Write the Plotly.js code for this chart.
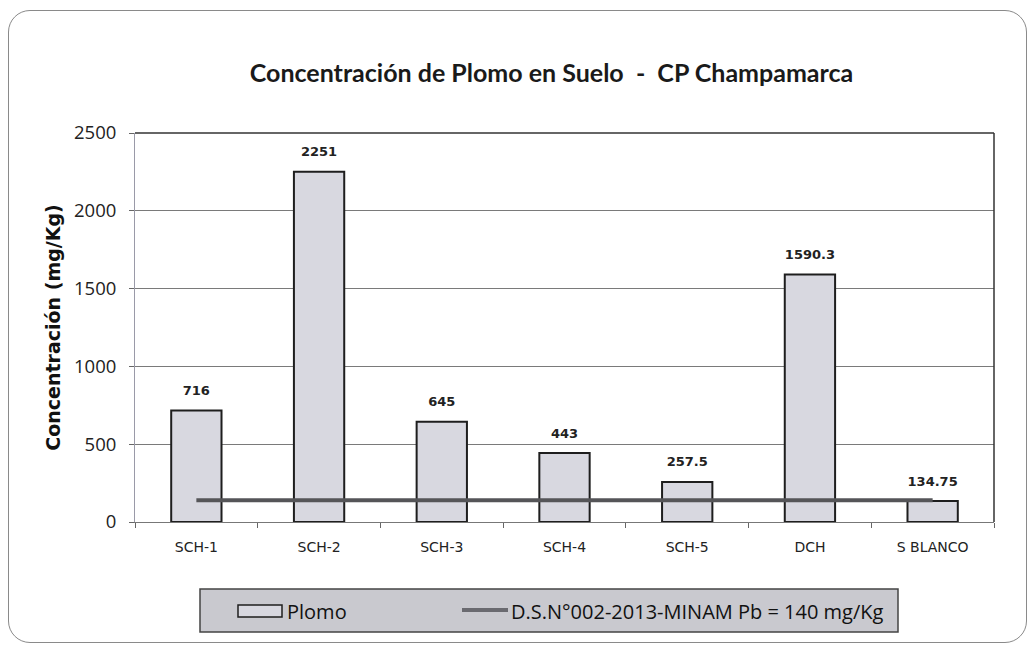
<!DOCTYPE html>
<html><head><meta charset="utf-8">
<script src="https://cdn.plot.ly/plotly-3.0.1.min.js"></script>
<style>
html,body{margin:0;padding:0;background:#fff;}
#wrap{position:relative;width:1034px;height:648px;}
#chart{width:1034px;height:648px;}
#frame{position:absolute;left:8px;top:10px;width:1019px;height:633px;border:1.5px solid #8a8a8a;border-radius:22px;pointer-events:none;box-sizing:border-box;}
</style></head>
<body><div id="wrap"><div id="chart"></div><div id="frame"></div></div>
<script>
const categories = ["SCH-1","SCH-2","SCH-3","SCH-4","SCH-5","DCH","S BLANCO"];
const plomo = [716, 2251, 645, 443, 257.5, 1590.3, 134.75];
const plomoLabels = ["716","2251","645","443","257.5","1590.3","134.75"];
const limite = [140, 140, 140, 140, 140, 140, 140];
const yTicks = [0, 500, 1000, 1500, 2000, 2500];

const traces = [
  {type:'bar', name:'Plomo', x:categories, y:plomo,
   marker:{color:'#d8d8e0', line:{color:'#1e1e1e', width:2}}, width:0.41, showlegend:false},
  {type:'scatter', mode:'lines', name:'D.S.N°002-2013-MINAM Pb = 140 mg/Kg', x:categories, y:limite,
   line:{color:'#555558', width:4}, showlegend:false},
  {type:'scatter', mode:'markers+text', x:categories, y:plomo, text:plomoLabels,
   textposition:'top center', cliponaxis:false,
   marker:{size:18, opacity:0}, showlegend:false, hoverinfo:'skip',
   textfont:{family:'DejaVu Sans', size:13, color:'#222', weight:'bold'}}
];

const lpx = x => (x-135)/859;
const lpy = y => -(y-522)/389;

const layout = {
  width:1034, height:648,
  margin:{l:135, r:40, t:133, b:126},
  paper_bgcolor:'rgba(0,0,0,0)', plot_bgcolor:'#fff',
  title:{text:'<b>Concentración de Plomo en Suelo  -  CP Champamarca</b>', x:(551.5)/1034, xanchor:'center',
         y:1-73/648, yanchor:'middle',
         font:{family:'Lato', size:25, color:'#1a1a1a'}},
  xaxis:{type:'category', tickson:'boundaries', ticks:'outside', ticklen:5, tickcolor:'#666',
         showgrid:false, showline:true, linecolor:'#777', linewidth:1, ticklabelstandoff:12,
         tickfont:{family:'DejaVu Sans', size:14, color:'#222'}},
  yaxis:{range:[0,2500], tickvals:yTicks, ticks:'outside', ticklen:5, tickcolor:'#666',
         showgrid:true, gridcolor:'#7a7a7a', gridwidth:1, zeroline:false,
         showline:true, linecolor:'#9a9aa8', linewidth:1, ticklabelstandoff:9,
         tickfont:{family:'Open Sans', size:18.5, color:'#222'},
         title:{text:'<b>Concentración (mg/Kg)</b>', font:{family:'DejaVu Sans', size:19, color:'#111'}, standoff:8}},
  shapes:[
    {type:'line', xref:'paper', yref:'paper', x0:0, x1:1, y0:1, y1:1, line:{color:'#333', width:1.5}},
    {type:'line', xref:'paper', yref:'paper', x0:1, x1:1, y0:0, y1:1, line:{color:'#333', width:1.5}},
    {type:'rect', xref:'paper', yref:'paper', x0:lpx(200), x1:lpx(898), y0:lpy(589), y1:lpy(632),
     fillcolor:'#c9c9cf', line:{color:'#444', width:1.5}, layer:'above'},
    {type:'rect', xref:'paper', yref:'paper', x0:lpx(238), x1:lpx(282), y0:lpy(605), y1:lpy(617),
     fillcolor:'#d8d8e0', line:{color:'#1e1e1e', width:1.5}, layer:'above'},
    {type:'line', xref:'paper', yref:'paper', x0:lpx(462), x1:lpx(508), y0:lpy(610), y1:lpy(610),
     line:{color:'#6a6a70', width:4}, layer:'above'}
  ],
  annotations:[
    {xref:'paper', yref:'paper', x:lpx(285), y:lpy(611), xanchor:'left', yanchor:'middle', showarrow:false,
     text:'Plomo', font:{family:'Open Sans', size:20, color:'#111'}},
    {xref:'paper', yref:'paper', x:lpx(509), y:lpy(611), xanchor:'left', yanchor:'middle', showarrow:false,
     text:'D.S.N°002-2013-MINAM Pb = 140 mg/Kg', font:{family:'Open Sans', size:20, color:'#111'}}
  ]
};
Plotly.newPlot('chart', traces, layout, {displayModeBar:false, staticPlot:true});
</script></body></html>
